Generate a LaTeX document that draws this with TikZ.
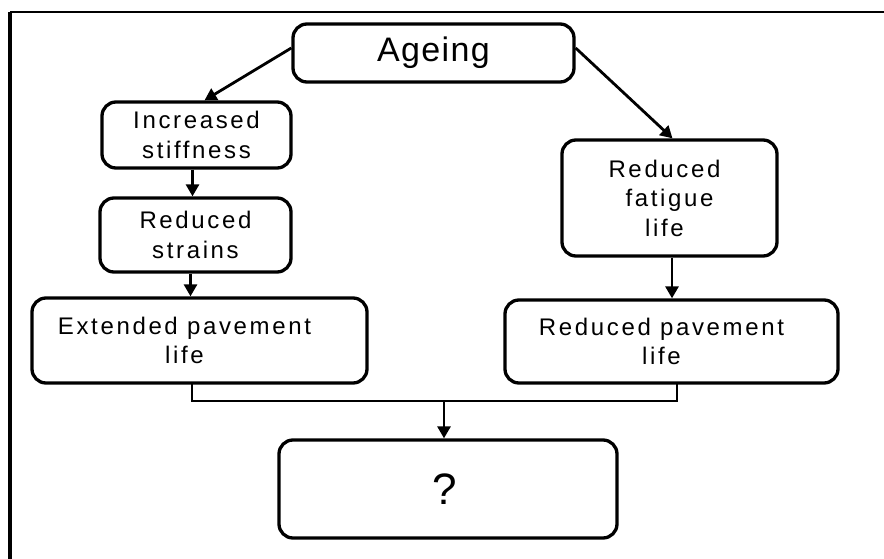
\documentclass[tikz,border=0pt]{standalone}
\usepackage{fontspec}
\setmainfont{Liberation Sans}
\newfontfamily\boxfont[LetterSpace=11]{Liberation Sans}
\newfontfamily\agfont[LetterSpace=4]{Liberation Sans}
\usetikzlibrary{arrows.meta}
\begin{document}
\begin{tikzpicture}[x=1pt,y=-1pt,
  rbox/.style={draw,line width=3.3pt,rounded corners=14pt,align=center,inner sep=0pt,
    font=\boxfont\fontsize{24}{29.5}\selectfont},
  conn/.style={line width=2.8pt},
  arr/.style={conn,-{Triangle[length=12pt,width=13pt]}}]
\useasboundingbox (0,0) rectangle (884,559);
\draw[line width=3.2pt] (10,559) -- (10,12);
\draw[line width=2.4pt] (10,12) -- (884,12);
\node[rbox,minimum width=281pt,minimum height=58pt,font=\agfont\fontsize{34}{40}\selectfont] (ageing) at (433.5,53) {Ageing};
\node[rbox,minimum width=189pt,minimum height=66pt] (stiff) at (196.5,135) {Increased\\stiffness};
\node[rbox,minimum width=191pt,minimum height=74pt] (strains) at (195.5,235) {Reduced\\strains};
\node[rbox,minimum width=335pt,minimum height=85pt] (ext) at (199.5,340.5) {Extended pavement\hspace*{30pt}\\life\hspace*{30pt}};
\node[rbox,minimum width=215pt,minimum height=116pt] (fatigue) at (669.5,198) {Reduced\hspace*{10pt}\\fatigue\hspace*{10pt}\\life\hspace*{10pt}};
\node[rbox,minimum width=333pt,minimum height=83pt] (redpav) at (671.5,341.5) {Reduced pavement\hspace*{20pt}\\life\hspace*{20pt}};
\node[rbox,minimum width=338pt,minimum height=98pt,font=\fontsize{44}{50}\selectfont] (q) at (448,489) {?\hspace*{6pt}};
\draw[arr] ([yshift=5pt]ageing.west) -- ([xshift=8pt]stiff.north);
\draw[arr] ([yshift=5pt]ageing.east) -- ([xshift=3pt]fatigue.north);
\draw[arr] ([xshift=-4pt]stiff.south) -- ([xshift=-4pt]stiff.south |- strains.north);
\draw[arr] ([xshift=-5pt]strains.south) -- ([xshift=-5pt]strains.south |- ext.north);
\draw[arr] ([xshift=2.5pt]fatigue.south) -- ([xshift=2.5pt]fatigue.south |- redpav.north);
\coordinate (jl) at (192,401);
\coordinate (jm) at (444,401);
\draw[conn] (192,383) -- (jl) -- (677,401) -- (677,383);
\draw[arr] (jm) -- (jm |- q.north);
\end{tikzpicture}
\end{document}
